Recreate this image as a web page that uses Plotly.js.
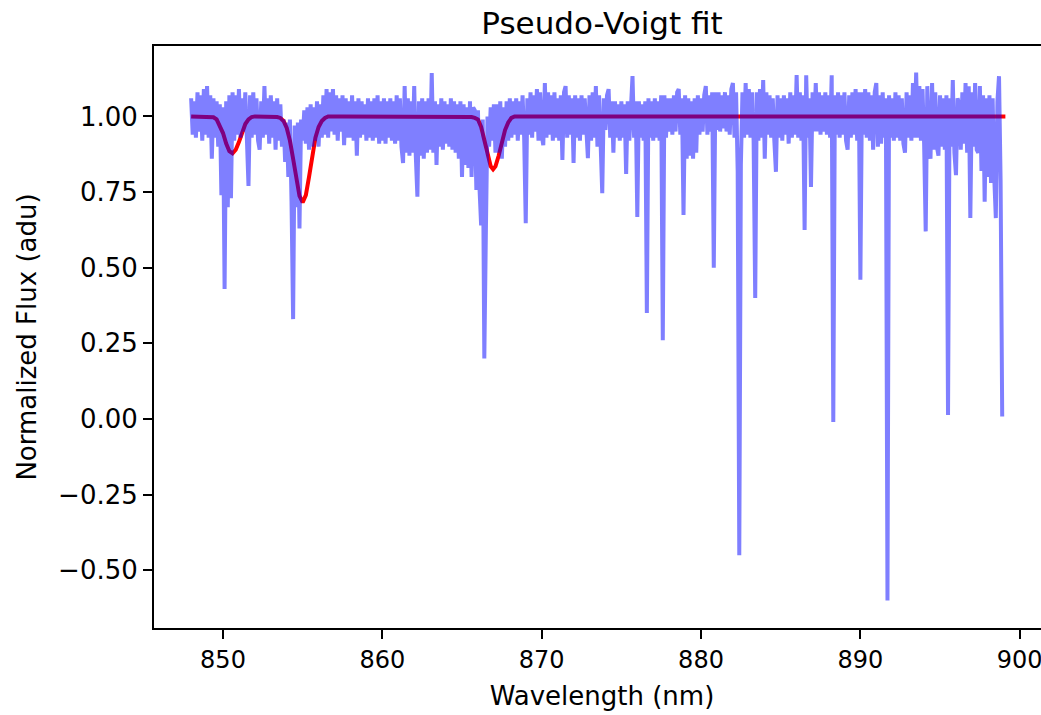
<!DOCTYPE html>
<html>
<head>
<meta charset="utf-8">
<script src="https://cdn.plot.ly/plotly-3.0.1.min.js"></script>
<style>
html, body { margin: 0; padding: 0; overflow: hidden; background: #ffffff; }
#chart { width: 1060px; height: 715px; }
</style>
</head>
<body>
<div id="chart"></div>
<script>
const wavelength = [
  848.0,848.1,848.2,848.3,848.4,848.5,848.6,848.7,848.8,848.9,
  849.0,849.1,849.2,849.3,849.4,849.5,849.6,849.7,849.8,849.9,
  850.0,850.1,850.2,850.3,850.4,850.5,850.6,850.7,850.8,850.9,
  851.0,851.1,851.2,851.3,851.4,851.5,851.6,851.7,851.8,851.9,
  852.0,852.1,852.2,852.3,852.4,852.5,852.6,852.7,852.8,852.9,
  853.0,853.1,853.2,853.3,853.4,853.5,853.6,853.7,853.8,853.9,
  854.0,854.1,854.2,854.3,854.4,854.5,854.6,854.7,854.8,854.9,
  855.0,855.1,855.2,855.3,855.4,855.5,855.6,855.7,855.8,855.9,
  856.0,856.1,856.2,856.3,856.4,856.5,856.6,856.7,856.8,856.9,
  857.0,857.1,857.2,857.3,857.4,857.5,857.6,857.7,857.8,857.9,
  858.0,858.1,858.2,858.3,858.4,858.5,858.6,858.7,858.8,858.9,
  859.0,859.1,859.2,859.3,859.4,859.5,859.6,859.7,859.8,859.9,
  860.0,860.1,860.2,860.3,860.4,860.5,860.6,860.7,860.8,860.9,
  861.0,861.1,861.2,861.3,861.4,861.5,861.6,861.7,861.8,861.9,
  862.0,862.1,862.2,862.3,862.4,862.5,862.6,862.7,862.8,862.9,
  863.0,863.1,863.2,863.3,863.4,863.5,863.6,863.7,863.8,863.9,
  864.0,864.1,864.2,864.3,864.4,864.5,864.6,864.7,864.8,864.9,
  865.0,865.1,865.2,865.3,865.4,865.5,865.6,865.7,865.8,865.9,
  866.0,866.1,866.2,866.3,866.4,866.5,866.6,866.7,866.8,866.9,
  867.0,867.1,867.2,867.3,867.4,867.5,867.6,867.7,867.8,867.9,
  868.0,868.1,868.2,868.3,868.4,868.5,868.6,868.7,868.8,868.9,
  869.0,869.1,869.2,869.3,869.4,869.5,869.6,869.7,869.8,869.9,
  870.0,870.1,870.2,870.3,870.4,870.5,870.6,870.7,870.8,870.9,
  871.0,871.1,871.2,871.3,871.4,871.5,871.6,871.7,871.8,871.9,
  872.0,872.1,872.2,872.3,872.4,872.5,872.6,872.7,872.8,872.9,
  873.0,873.1,873.2,873.3,873.4,873.5,873.6,873.7,873.8,873.9,
  874.0,874.1,874.2,874.3,874.4,874.5,874.6,874.7,874.8,874.9,
  875.0,875.1,875.2,875.3,875.4,875.5,875.6,875.7,875.8,875.9,
  876.0,876.1,876.2,876.3,876.4,876.5,876.6,876.7,876.8,876.9,
  877.0,877.1,877.2,877.3,877.4,877.5,877.6,877.7,877.8,877.9,
  878.0,878.1,878.2,878.3,878.4,878.5,878.6,878.7,878.8,878.9,
  879.0,879.1,879.2,879.3,879.4,879.5,879.6,879.7,879.8,879.9,
  880.0,880.1,880.2,880.3,880.4,880.5,880.6,880.7,880.8,880.9,
  881.0,881.1,881.2,881.3,881.4,881.5,881.6,881.7,881.8,881.9,
  882.0,882.1,882.2,882.3,882.4,882.5,882.6,882.7,882.8,882.9,
  883.0,883.1,883.2,883.3,883.4,883.5,883.6,883.7,883.8,883.9,
  884.0,884.1,884.2,884.3,884.4,884.5,884.6,884.7,884.8,884.9,
  885.0,885.1,885.2,885.3,885.4,885.5,885.6,885.7,885.8,885.9,
  886.0,886.1,886.2,886.3,886.4,886.5,886.6,886.7,886.8,886.9,
  887.0,887.1,887.2,887.3,887.4,887.5,887.6,887.7,887.8,887.9,
  888.0,888.1,888.2,888.3,888.4,888.5,888.6,888.7,888.8,888.9,
  889.0,889.1,889.2,889.3,889.4,889.5,889.6,889.7,889.8,889.9,
  890.0,890.1,890.2,890.3,890.4,890.5,890.6,890.7,890.8,890.9,
  891.0,891.1,891.2,891.3,891.4,891.5,891.6,891.7,891.8,891.9,
  892.0,892.1,892.2,892.3,892.4,892.5,892.6,892.7,892.8,892.9,
  893.0,893.1,893.2,893.3,893.4,893.5,893.6,893.7,893.8,893.9,
  894.0,894.1,894.2,894.3,894.4,894.5,894.6,894.7,894.8,894.9,
  895.0,895.1,895.2,895.3,895.4,895.5,895.6,895.7,895.8,895.9,
  896.0,896.1,896.2,896.3,896.4,896.5,896.6,896.7,896.8,896.9,
  897.0,897.1,897.2,897.3,897.4,897.5,897.6,897.7,897.8,897.9,
  898.0,898.1,898.2,898.3,898.4,898.5,898.6,898.7,898.8,898.9
];
const flux = [
  1.06,0.94,1.05,0.93,1.08,0.95,1.07,0.92,1.09,0.94,
  1.10,0.93,1.07,0.86,1.06,0.93,1.05,0.90,1.04,0.74,
  1.03,0.43,1.05,0.70,1.07,0.73,1.08,0.92,1.07,0.94,
  1.09,0.93,1.06,0.95,1.08,0.91,0.77,1.07,0.93,1.08,
  0.94,1.06,0.92,0.89,1.05,0.93,1.10,0.94,1.06,0.91,
  1.07,0.93,1.05,0.89,1.06,0.92,1.04,0.90,0.99,0.85,
  0.98,0.80,0.99,0.72,0.33,0.97,0.70,0.98,0.63,0.99,
  0.92,1.02,0.91,1.03,0.89,1.04,0.90,1.03,0.92,1.05,
  0.90,1.04,0.93,1.07,0.94,1.09,0.93,1.08,0.95,1.09,
  0.94,1.07,0.92,1.06,0.95,1.07,0.905,1.06,0.93,1.05,
  0.93,1.07,0.92,1.05,0.87,1.06,0.93,1.05,0.94,1.04,
  0.92,1.06,0.93,1.05,0.92,1.06,0.93,1.07,0.91,1.05,
  0.92,1.06,0.91,1.05,0.93,1.06,0.92,1.05,0.91,1.07,
  0.92,1.06,0.90,0.846,1.10,0.88,1.06,0.87,1.05,0.88,
  1.10,0.87,0.735,1.05,0.87,1.06,0.86,1.05,0.88,1.06,
  0.89,1.143,0.88,1.05,0.84,1.04,0.90,1.06,0.89,1.05,
  0.91,1.04,0.90,1.06,0.89,1.05,0.88,1.04,0.86,1.05,
  0.80,1.04,0.84,1.03,0.83,1.05,0.80,1.03,1.02,0.757,
  1.02,0.76,0.64,0.99,0.20,0.63,1.00,0.90,1.03,0.92,
  1.04,0.88,1.04,0.88,1.05,0.86,1.03,0.90,1.05,0.92,
  1.06,0.93,1.05,0.94,1.06,0.92,1.05,0.94,1.07,0.93,
  0.647,1.06,0.94,1.08,0.93,1.07,0.95,1.09,0.92,1.08,
  0.94,0.905,1.11,0.93,1.08,0.94,1.07,0.92,1.08,0.93,
  1.06,0.92,1.07,0.856,1.08,1.10,0.93,1.07,0.94,1.06,
  0.846,1.07,0.93,1.06,0.92,1.07,0.94,1.06,0.93,0.862,
  1.07,0.92,1.08,0.93,1.10,0.90,1.07,0.93,0.746,1.06,
  0.955,1.07,1.09,0.93,1.05,0.88,1.05,0.93,1.04,0.92,
  1.05,0.93,1.04,0.81,1.05,0.92,1.06,1.133,0.93,1.05,
  0.668,1.05,0.93,1.04,0.92,1.05,0.35,1.06,0.93,1.05,
  0.92,1.06,0.93,1.05,0.92,1.07,0.26,1.07,0.93,1.06,
  0.95,1.06,0.94,1.07,0.95,1.08,1.09,0.94,1.06,0.674,
  1.07,0.86,1.06,0.87,1.05,0.86,1.06,0.88,1.07,0.94,
  1.06,0.95,1.07,1.10,0.94,1.07,0.95,1.08,0.50,1.08,
  0.955,1.08,0.95,1.07,0.96,1.08,0.95,1.07,0.94,1.09,
  1.11,0.93,1.08,0.82,-0.45,0.84,1.08,0.93,1.11,0.94,
  1.09,0.93,1.08,0.92,0.40,1.08,0.92,1.09,0.93,1.12,
  0.86,1.08,0.94,1.07,0.93,1.06,0.92,0.817,1.07,0.93,
  1.06,0.92,1.07,0.94,1.06,0.91,1.08,0.93,1.07,0.94,
  1.137,0.93,1.08,0.92,1.07,0.625,1.136,0.93,1.06,0.767,
  1.08,0.95,1.11,0.95,1.08,0.94,1.07,0.95,1.08,0.94,
  1.07,0.93,1.136,-0.01,1.07,0.94,1.08,0.93,1.07,0.94,
  1.08,0.92,0.89,1.07,0.93,1.08,0.94,1.09,0.92,1.08,
  0.46,1.08,0.94,1.09,0.93,1.08,0.92,1.07,0.89,1.08,
  1.11,0.90,1.07,0.91,1.08,0.93,1.06,-0.60,1.07,0.93,
  1.06,0.92,1.08,0.93,1.07,0.92,1.06,0.91,0.88,1.08,
  0.93,1.07,0.92,1.11,0.93,1.145,0.93,1.10,0.92,1.09,
  0.91,0.62,1.10,0.90,0.86,1.11,0.89,1.08,0.90,0.87,
  1.07,0.90,1.06,0.89,1.07,0.013,1.06,0.90,1.12,0.88,
  0.806,1.06,1.04,0.89,1.08,0.91,1.11,0.88,1.10,0.664,
  1.08,0.90,1.11,0.89,0.88,1.10,0.82,1.07,0.718,1.06,
  0.80,1.07,0.78,1.06,0.80,0.664,1.05,1.133,0.79,0.008
];

// Pseudo-Voigt fit curve
const fitWavelength = [
  848.0,849.0,849.4,849.6,849.8,850.0,850.2,850.4,850.6,850.8,851.0,851.2,851.4,851.6,851.8,852.0,
  853.0,853.4,853.6,853.8,854.0,854.2,854.4,854.6,854.8,855.0,855.2,855.4,855.6,855.8,856.0,856.2,856.4,856.6,
  857.5,865.0,865.6,865.8,866.0,866.2,866.4,866.6,866.8,866.95,867.1,867.3,867.5,867.7,867.9,868.1,868.3,
  869.0,899.1
];
const fitFlux = [
  1.0,1.0,0.997,0.99,0.97,0.945,0.91,0.885,0.878,0.89,0.915,0.95,0.975,0.99,0.998,1.0,
  1.0,0.998,0.995,0.985,0.962,0.92,0.86,0.79,0.737,0.716,0.74,0.80,0.87,0.93,0.965,0.985,0.995,1.0,
  1.0,1.0,0.998,0.995,0.99,0.965,0.92,0.87,0.835,0.825,0.835,0.87,0.915,0.955,0.98,0.995,1.0,
  1.0,1.0
];

const xTicks = [850, 860, 870, 880, 890, 900];
const yTicks = [-0.5, -0.25, 0, 0.25, 0.5, 0.75, 1.0];

const fontFamily = "DejaVu Sans, Verdana, sans-serif";

const traces = [
  {
    x: fitWavelength, y: fitFlux, type: 'scatter', mode: 'lines',
    line: { color: '#ff0000', width: 4 }, name: 'fit', hoverinfo: 'skip'
  },
  {
    x: wavelength, y: flux, type: 'scatter', mode: 'lines',
    line: { color: 'rgba(0,0,255,0.5)', width: 4 }, name: 'spectrum', hoverinfo: 'skip'
  }
];

const layout = {
  width: 1060, height: 715,
  margin: { l: 154, r: 10, t: 46, b: 87, pad: 0 },
  paper_bgcolor: '#ffffff', plot_bgcolor: '#ffffff',
  showlegend: false,
  font: { family: fontFamily, color: '#000000', size: 26 },
  title: {
    text: 'Pseudo-Voigt fit',
    font: { family: fontFamily, size: 31, color: '#000000' },
    x: 0.5, xref: 'paper', xanchor: 'center',
    y: 0.968, yref: 'container', yanchor: 'middle'
  },
  xaxis: {
    range: [845.67, 901.9],
    showgrid: false, zeroline: false,
    showline: true, mirror: true, linecolor: '#000000', linewidth: 2,
    ticks: 'outside', ticklen: 9, tickwidth: 2, tickcolor: '#000000',
    tickvals: xTicks, ticktext: xTicks.map(String),
    tickfont: { family: fontFamily, size: 24, color: '#000000' },
    title: { text: 'Wavelength (nm)', font: { family: fontFamily, size: 26, color: '#000000' }, standoff: 14 },
    automargin: false
  },
  yaxis: {
    range: [-0.6907, 1.2327],
    showgrid: false, zeroline: false,
    showline: true, mirror: true, linecolor: '#000000', linewidth: 2,
    ticks: 'outside', ticklen: 9, tickwidth: 2, tickcolor: '#000000',
    tickvals: yTicks, tickformat: '.2f',
    tickfont: { family: fontFamily, size: 26, color: '#000000' },
    title: { text: 'Normalized Flux (adu)', font: { family: fontFamily, size: 26, color: '#000000' }, standoff: 14 },
    automargin: false
  }
};

Plotly.newPlot('chart', traces, layout, { displayModeBar: false, staticPlot: true });
</script>
</body>
</html>
